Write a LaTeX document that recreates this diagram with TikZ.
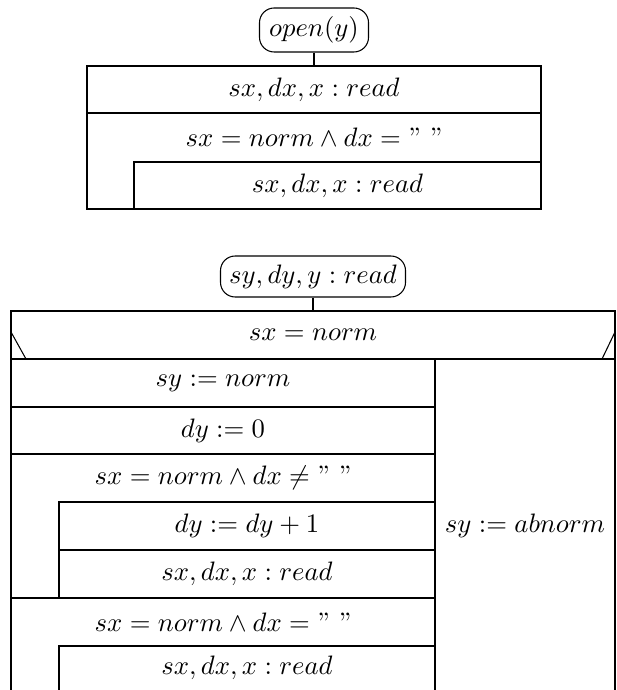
\documentclass[tikz,border=0pt]{standalone}
\tikzset{
  term/.style={draw, rounded corners=5.5pt, inner sep=0pt},
  cell/.style={draw, inner sep=0pt},
  lbl/.style={inner sep=0pt},
  sz/.style 2 args={minimum width=#1*0.375pt, minimum height=#2*0.375pt},
}
\begin{document}
\begin{tikzpicture}[x=0.375pt,y=-0.375pt,line width=0.4pt]
\useasboundingbox (0,0) rectangle (616,690);
% ---------- upper diagram ----------
\node[term, sz={109}{44}] (t1) at (314,30) {$open(y)$};
\node[cell, sz={454}{47}] (r1) at (314,89.5) {$sx, dx, x : read$};
\draw (t1) -- (r1);
\draw (87,113) -- (541,113) -- (541,209) -- (87,209) -- cycle;
\node[lbl] (c1) at (314,137) {$sx = norm \wedge dx = \mbox{'' ''}$};
\node[cell, sz={407}{47}] (r2) at (337.5,185.5) {$sx, dx, x : read$};
% ---------- lower diagram ----------
\node[term, sz={185}{41}] (t2) at (313,276.5) {$sy, dy, y : read$};
\coordinate (dtop) at (313,311);
\draw (t2) -- (dtop);
\draw (11,311) rectangle (615,359);
\draw (11,332) -- (26,359);
\draw (615,332) -- (602,359);
\node[lbl] (d) at (313,335) {$sx = norm$};
% left branch
\node[cell, sz={424}{48}] (b1) at (223,383) {$sy := norm$};
\node[cell, sz={424}{47}] (b2) at (223,430.5) {$dy := 0$};
\draw (11,454) rectangle (435,598);
\node[lbl] (w1) at (223,478) {$sx = norm \wedge dx \neq \mbox{'' ''}$};
\node[cell, sz={376}{48}] (b3) at (247,526) {$dy := dy + 1$};
\node[cell, sz={376}{48}] (b4) at (247,574) {$sx, dx, x : read$};
\draw (11,690) -- (11,598) -- (435,598) -- (435,690);
\node[lbl] (w2) at (223,622) {$sx = norm \wedge dx = \mbox{'' ''}$};
\draw (59,690) -- (59,646) -- (435,646);
\node[lbl] (b5) at (247,668) {$sx, dx, x : read$};
% right branch
\draw (435,359) -- (435,690);
\draw (615,359) -- (615,690);
\node[lbl] (e1) at (525,526) {$sy := abnorm$};
\end{tikzpicture}
\end{document}
